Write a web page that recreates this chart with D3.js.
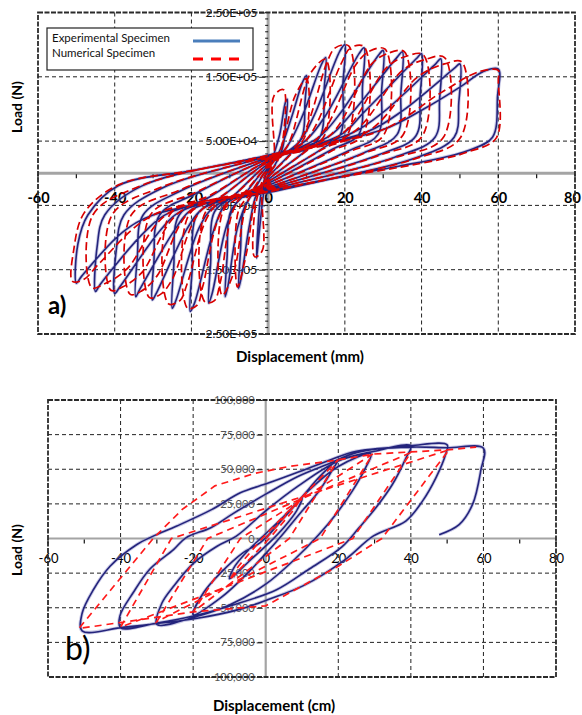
<!DOCTYPE html>
<html>
<head>
<meta charset="utf-8">
<script src="https://d3js.org/d3.v7.min.js"></script>
<style>
  body { margin: 0; background: #fff; }
  svg { display: block; }
  text { font-family: Lato, "Open Sans", sans-serif; }
</style>
</head>
<body>
<svg id="chart" width="582" height="715"></svg>
<script>
// ---------- data ----------
// panel a: displacement (mm) vs load (N), one continuous path per specimen
const expA = [
  [0,0],[1,2e4],[3,6e4],[4.5,1.1e5],[5,1.15e5],[4.6,8e4],[3.8,4e4],[1.5,1e4],[0,-3e3],
  [-1,-2.5e4],[-2.3,-9e4],[-3,-1.32e5],[-2.6,-8e4],[-1.8,-3e4],[0,6e3],
  [3,3.5e4],[6,8.5e4],[9,1.42e5],[10,1.52e5],[9.6,1.1e5],[9,6e4],[6,3.2e4],[0,-6e3],
  [-3,-3.2e4],[-5,-8.5e4],[-7,-1.62e5],[-7.7,-1.79e5],[-7.2,-1.2e5],[-6.5,-6e4],[-4,-3e4],[0,9e3],
  [5,4.2e4],[9,9e4],[13.8,1.68e5],[15,1.8e5],[14.6,1.3e5],[13.8,6e4],[10,3.6e4],[0,-1e4],
  [-5,-4e4],[-8,-8.5e4],[-10.5,-1.76e5],[-11.2,-1.92e5],[-10.7,-1.3e5],[-9.8,-6e4],[-6,-3.2e4],[0,1.2e4],
  [8,4.8e4],[12,9e4],[18.7,1.9e5],[20,2.0e5],[19.5,1.4e5],[18.8,6e4],[14,3.8e4],[0,-1.3e4],
  [-8,-4.4e4],[-11,-8.5e4],[-14.6,-1.87e5],[-15.5,-2.02e5],[-15,-1.4e5],[-14,-6e4],[-9,-3.5e4],[0,1.5e4],
  [10,5.2e4],[15,9e4],[23.7,1.86e5],[25,1.95e5],[24.6,1.35e5],[23.6,6e4],[17,3.8e4],[0,-1.6e4],
  [-11,-4.8e4],[-14,-8.5e4],[-19.2,-2.02e5],[-20.3,-2.15e5],[-19.8,-1.5e5],[-18.6,-6.5e4],[-12,-3.6e4],[0,1.8e4],
  [13,5.5e4],[19,9.5e4],[28.7,1.83e5],[30,1.91e5],[29.6,1.3e5],[28.6,6e4],[21,3.5e4],[0,-1.9e4],
  [-14,-5.2e4],[-18,-8.5e4],[-24,-1.97e5],[-25,-2.1e5],[-24.6,-1.45e5],[-23.2,-6.5e4],[-15,-3.6e4],[0,2e4],
  [16,5.8e4],[22,9.5e4],[33.7,1.81e5],[35,1.89e5],[34.6,1.25e5],[33.6,6e4],[25,3.2e4],[0,-2.2e4],
  [-17,-5.5e4],[-21,-8.5e4],[-29.1,-1.86e5],[-30.2,-1.97e5],[-29.8,-1.4e5],[-28.3,-6.5e4],[-19,-3.2e4],[0,2.2e4],
  [19,6e4],[25,9.5e4],[38.6,1.78e5],[40,1.86e5],[39.6,1.2e5],[38.5,5.8e4],[29,2.9e4],[0,-2.4e4],
  [-20,-5.7e4],[-24,-8.5e4],[-33.5,-1.81e5],[-34.5,-1.92e5],[-34.1,-1.3e5],[-32.6,-6.5e4],[-23,-2.8e4],[0,2.4e4],
  [22,6.3e4],[30,9.5e4],[43.8,1.71e5],[45,1.78e5],[44.7,1.15e5],[43.5,5.6e4],[33,2.5e4],[0,-2.6e4],
  [-23,-6e4],[-28,-8.8e4],[-38.7,-1.77e5],[-40,-1.87e5],[-39.6,-1.2e5],[-37.6,-6.5e4],[-28,-2.4e4],[0,2.6e4],
  [26,6.5e4],[35,9.7e4],[48.5,1.63e5],[50,1.70e5],[49.7,1.1e5],[48.5,5.6e4],[38,2.3e4],[0,-2.8e4],
  [-26,-6.2e4],[-32,-9e4],[-43.8,-1.73e5],[-45,-1.84e5],[-44.6,-1.15e5],[-42.6,-6.5e4],[-33,-2e4],[0,2.8e4],
  [30,6.8e4],[40,9.8e4],[50,1.34e5],[56,1.58e5],[60,1.62e5],[59.8,1.2e5],[58.5,5.6e4],[52,3.5e4],[46,2.5e4],[34,1.1e4],[18.7,-6e3],[0,-3e4],
  [-30,-6.5e4],[-38,-9.2e4],[-48.6,-1.6e5],[-50,-1.71e5],[-49.6,-1.1e5],[-47,-6.5e4],[-39,-1.9e4],[-20,4e3],[0,2.6e4],[10,3.6e4]
];

const numA = [
  [0,0],[1.5,2e4],[1.5,1.2e5],[4,1.3e5],[4,6e4],[2.5,2e4],[0,-3e3],
  [-1.5,-2e4],[-1.5,-1.2e5],[-3.5,-1.3e5],[-3.5,-6e4],[-2,-2e4],[0,6e3],
  [3,3.3e4],[7,1.2e5],[10,1.47e5],[9.8,6e4],[6,3e4],[0,-6e3],
  [-3,-3.3e4],[-5.5,-1.2e5],[-8,-1.77e5],[-7.8,-6e4],[-4.5,-3e4],[0,9e3],
  [5,4.2e4],[11,1.55e5],[15,1.77e5],[14.8,6e4],[10,3.5e4],[0,-1e4],
  [-5,-4e4],[-9,-1.55e5],[-12,-1.9e5],[-11.8,-6e4],[-6.5,-3.2e4],[0,1.2e4],
  [8,4.8e4],[15.5,1.75e5],[17.5,1.95e5],[21,1.98e5],[20.7,6e4],[14,3.7e4],[0,-1.3e4],
  [-8,-4.4e4],[-12.5,-1.7e5],[-14,-1.98e5],[-16.5,-2.0e5],[-16.3,-6e4],[-9,-3.4e4],[0,1.5e4],
  [10,5.2e4],[19,1.7e5],[21.5,1.95e5],[25,1.97e5],[24.7,6e4],[17,3.6e4],[0,-1.6e4],
  [-11,-4.8e4],[-17,-1.75e5],[-18.5,-2.05e5],[-21,-2.1e5],[-20.7,-6.5e4],[-12,-3.5e4],[0,1.8e4],
  [13,5.5e4],[23,1.7e5],[26.5,1.9e5],[30.5,1.93e5],[30.2,6e4],[21,3.3e4],[0,-1.9e4],
  [-14,-5.2e4],[-21,-1.7e5],[-23,-1.98e5],[-26,-2.03e5],[-25.7,-6.5e4],[-15,-3.4e4],[0,2e4],
  [16,5.8e4],[27,1.7e5],[31,1.86e5],[35.5,1.89e5],[35.2,6e4],[25,3.1e4],[0,-2.2e4],
  [-17,-5.5e4],[-25,-1.65e5],[-28,-1.88e5],[-31,-1.93e5],[-30.7,-6.5e4],[-19,-3e4],[0,2.2e4],
  [19,6e4],[31,1.65e5],[36,1.82e5],[40.5,1.84e5],[40.2,5.8e4],[29,2.8e4],[0,-2.4e4],
  [-20,-5.7e4],[-29,-1.6e5],[-33,-1.83e5],[-36,-1.88e5],[-35.7,-6.5e4],[-23,-2.6e4],[0,2.4e4],
  [22,6.3e4],[35,1.6e5],[41,1.77e5],[46,1.8e5],[45.7,5.6e4],[33,2.4e4],[0,-2.6e4],
  [-23,-6e4],[-33,-1.55e5],[-38,-1.77e5],[-41,-1.82e5],[-40.7,-6.5e4],[-28,-2.2e4],[0,2.6e4],
  [26,6.5e4],[39,1.5e5],[46,1.7e5],[50.5,1.73e5],[50.2,5.6e4],[38,2.2e4],[0,-2.8e4],
  [-26,-6.2e4],[-37,-1.5e5],[-43,-1.73e5],[-46,-1.78e5],[-45.7,-6.5e4],[-33,-1.9e4],[0,2.8e4],
  [30,6.8e4],[45,1.25e5],[55,1.58e5],[60,1.6e5],[60,1.45e5],[59.5,5.5e4],[52,3.3e4],[46,2.3e4],[34,9e3],[18,-7e3],[0,-2.9e4],
  [-30,-6.5e4],[-44,-1.4e5],[-48,-1.65e5],[-51,-1.68e5],[-50.7,-1.2e5],[-48,-6.2e4],[-39,-1.8e4],[-20,4e3],[0,2.5e4],[10,3.5e4]
];

// panel b: displacement (cm) vs load (N)
const expB = [
  [0,0],[4,12e3],[8,24e3],[10,29e3],[8.5,20e3],[5,8e3],[1,-3e3],[-4,-15e3],[-8,-25e3],[-10,-29e3],[-8.5,-20e3],[-5,-9e3],[-1,1e3],
  [5,16e3],[10,30e3],[15,45e3],[20,57e3],
  [18.5,50e3],[14.6,34e3],[10,19.8e3],[5.4,5.3e3],[1,-8e3],[-5,-25e3],[-12,-42e3],[-20,-55e3],
  [-17.1,-39e3],[-12.5,-25e3],[-6.1,-10e3],[-1.5,-3e3],[5,15e3],[12,35e3],[20,52e3],[29,61e3],
  [27.5,51e3],[23.8,34e3],[19.2,17e3],[14.6,2.7e3],[8,-15e3],[0,-33e3],[-10,-48e3],[-20,-57e3],[-30,-62e3],
  [-28.6,-46.6e3],[-25.4,-34.5e3],[-19.8,-17.6e3],[-13.4,-5.6e3],[-8.1,1.7e3],[0,20e3],[9,38e3],[20,56e3],[30,63e3],[40,67e3],
  [38.6,57.9e3],[34.9,39e3],[30.3,22e3],[25.7,7.7e3],[21,-6e3],[12,-22e3],[3,-37e3],[-9,-48e3],[-20,-56e3],[-30,-61e3],[-40,-64.5e3],
  [-40.2,-56e3],[-36.5,-39e3],[-31.9,-22e3],[-25.4,-8e3],[-22,0.5e3],[-15,8e3],[-9,18e3],[0,32e3],[9,45e3],[17.4,54e3],[25,62e3],[40,67e3],[50,67.6e3],
  [49.6,61e3],[46.9,43.8e3],[43.2,27e3],[38.6,12.6e3],[29.7,1.9e3],[22,-15e3],[10.4,-34e3],[0.7,-44e3],[-7,-51e3],[-19.7,-58e3],[-39,-64e3],[-50.6,-66.7e3],
  [-50.6,-54e3],[-47.5,-37e3],[-42.9,-20e3],[-35.5,-4.3e3],[-31,1.7e3],[-24.5,9e3],[-14.8,21e3],[-7,33e3],[0.7,40e3],[9,48e3],[17,56e3],[25,63e3],[40,66e3],[50,65.5e3],[60,65.2e3],
  [59.3,49.5e3],[57,24.6e3],[53.3,10e3],[47.8,2.7e3]
];

const numB = [
  [0,0],[10,30e3],[7.5,20e3],[1,0],[-10,-30e3],[-7.5,-20e3],[-1,0],
  [20,57e3],[6.5,0],[-20,-53e3],[-7,0],[29.5,61e3],[15,0],[-30,-60e3],[-16,0],[40,62e3],[24,0],
  [-40,-64e3],[-26,0],[50.5,64e3],[32,0],[20,-20e3],[0,-48.6e3],[-20,-53e3],[-51.5,-65e3],
  [-31,0],[-23,21e3],[-14,38e3],[-3,47e3],[6.4,52e3],[18,56e3],[30,61e3],[50,64e3],[58,66e3]
];

// tick labels
const xTicks = [-60, -40, -20, 0, 20, 40, 60, 80];
const yTicksA = [-2.5e5, -1.5e5, -5e4, 5e4, 1.5e5, 2.5e5];
const yTicksB = [-1e5, -7.5e4, -5e4, -2.5e4, 0, 2.5e4, 5e4, 7.5e4, 1e5];
const legendLabels = ["Experimental Specimen", "Numerical Specimen"];

// ---------- drawing ----------
const svg = d3.select("#chart");
const BLUE = "#24247c", HALO = "#8a8ac8", RED = "#d90000";

const loc = d3.formatLocale({decimal: ".", thousands: ",", grouping: [3], currency: ["", ""], minus: "-"});
const fmtComma = loc.format(",");
function fmtSci(v) {
  const [m, e] = d3.format(".2e")(Math.abs(v)).split("e");
  const ex = +e;
  return (v < 0 ? "-" : "") + m + "E" + (ex < 0 ? "-" : "+") + String(Math.abs(ex)).padStart(2, "0");
}

function drawPanel(o) {
  const g = svg.append("g");
  const x = o.x, y = o.y;
  const [x0, x1] = x.range(), [y0, y1] = y.range(); // y0 bottom, y1 top
  const clipId = "clip" + o.id;
  svg.append("clipPath").attr("id", clipId).append("rect")
    .attr("x", x0).attr("y", y1).attr("width", x1 - x0).attr("height", y0 - y1);

  // dashed grid
  g.append("g").selectAll("line").data(xTicks.filter(d => d > -60 && d < 80 && d !== 0)).join("line")
    .attr("x1", d => x(d)).attr("x2", d => x(d)).attr("y1", y1).attr("y2", y0)
    .attr("stroke", "#222").attr("stroke-width", 1).attr("stroke-dasharray", "4,3");
  g.append("g").selectAll("line").data(o.yTicks.filter(d => d !== 0 && d > o.y.domain()[0] && d < o.y.domain()[1])).join("line")
    .attr("x1", x0).attr("x2", x1).attr("y1", d => y(d)).attr("y2", d => y(d))
    .attr("stroke", "#222").attr("stroke-width", 1).attr("stroke-dasharray", "4,3");

  // zero axes
  g.append("line").attr("x1", x(0)).attr("x2", x(0)).attr("y1", y1).attr("y2", y0)
    .attr("stroke", "#a4a4a4").attr("stroke-width", o.axisW);
  g.append("line").attr("x1", x0).attr("x2", x1).attr("y1", y(0)).attr("y2", y(0))
    .attr("stroke", "#a4a4a4").attr("stroke-width", o.axisW);

  // minor ticks along the zero axes
  g.append("g").selectAll("line").data(d3.range(-60, 81, 10)).join("line")
    .attr("x1", d => x(d)).attr("x2", d => x(d)).attr("y1", y(0) + 1).attr("y2", y(0) + 5)
    .attr("stroke", "#111").attr("stroke-width", 1.2);
  if (o.yMinor) {
    g.append("g").selectAll("line").data(o.yMinor).join("line")
      .attr("x1", x(0) - 3).attr("x2", x(0)).attr("y1", d => y(d)).attr("y2", d => y(d))
      .attr("stroke", "#111").attr("stroke-width", 1);
  }

  // y tick labels next to the vertical zero axis
  const ya = d3.axisLeft(y).tickValues(o.yTicks).tickFormat(o.yFmt).tickSize(6).tickPadding(2);
  const yg = g.append("g").attr("transform", `translate(${x(0) - 3},0)`).call(ya);
  yg.select(".domain").remove();
  yg.selectAll(".tick line").attr("stroke", "#222");
  yg.selectAll("text").attr("font-size", o.yFont).attr("fill", o.yColor).attr("font-family", "Lato, sans-serif");

  // x tick labels under the horizontal zero axis
  const xa = d3.axisBottom(x).tickValues(xTicks).tickFormat(d => String(d)).tickSize(0).tickPadding(o.xPad);
  const xg = g.append("g").attr("transform", `translate(0,${y(0)})`).call(xa);
  xg.select(".domain").remove();
  xg.selectAll("text").attr("font-size", o.xFont).attr("font-weight", o.xWeight).attr("fill", "#000")
    .attr("font-family", "Lato, sans-serif")
    .attr("dx", d => (d === 80 ? o.lastShift : 0));

  // hysteresis curves
  const line = d3.line().x(d => x(d[0])).y(d => y(d[1])).curve(d3.curveCatmullRom.alpha(0.5));
  const lineR = d3.line().x(d => x(d[0])).y(d => y(d[1])).curve(o.redCurve);
  const cg = g.append("g").attr("clip-path", `url(#${clipId})`);
  cg.append("path").datum(o.exp).attr("d", line).attr("fill", "none")
    .attr("stroke", HALO).attr("stroke-width", 3.4).attr("stroke-opacity", 0.45).attr("stroke-linejoin", "round");
  cg.append("path").datum(o.exp).attr("d", line).attr("fill", "none")
    .attr("stroke", BLUE).attr("stroke-width", 1.6).attr("stroke-linejoin", "round");
  cg.append("path").datum(o.num).attr("d", lineR).attr("fill", "none")
    .attr("stroke", o.redColor).attr("stroke-width", 1.7).attr("stroke-dasharray", o.redDash);

  // frame
  g.append("rect").attr("x", x0).attr("y", y1).attr("width", x1 - x0).attr("height", y0 - y1)
    .attr("fill", "none").attr("stroke", "#2a2a2a").attr("stroke-width", 1.8).attr("stroke-dasharray", "5,1.5");
  return g;
}

// panel a
const xA = d3.scaleLinear().domain([-60, 80]).range([38, 575]);
const yA = d3.scaleLinear().domain([-2.5e5, 2.5e5]).range([334, 12.5]);
drawPanel({
  id: "a", x: xA, y: yA, exp: expA, num: numA, yTicks: yTicksA, yFmt: fmtSci,
  yMinor: d3.range(-2.5e5, 2.5e5 + 1, 1e4), yFont: 12, yColor: "#111",
  xFont: 14.5, xWeight: 700, xPad: 19, axisW: 3, redColor: RED, redDash: "8,4",
  redCurve: d3.curveCatmullRom.alpha(0.5), lastShift: -3
});

// panel b
const xB = d3.scaleLinear().domain([-60, 80]).range([48, 556]);
const yB = d3.scaleLinear().domain([-1e5, 1e5]).range([677, 400]);
drawPanel({
  id: "b", x: xB, y: yB, exp: expB, num: numB, yTicks: yTicksB, yFmt: fmtComma,
  yMinor: null, yFont: 11, yColor: "#555",
  xFont: 13, xWeight: 400, xPad: 15, axisW: 2.2, redColor: "#ff1a1a", redDash: "7,5",
  redCurve: d3.curveLinear, lastShift: 0
});

// legend of panel a
const lg = svg.append("g");
lg.append("rect").attr("x", 47).attr("y", 28).attr("width", 206).attr("height", 42)
  .attr("fill", "#fff").attr("stroke", "#222").attr("stroke-width", 1.2);
lg.selectAll("text").data(legendLabels).join("text")
  .attr("x", 52).attr("y", (d, i) => 42 + i * 15).attr("font-size", 11.5).attr("fill", "#111").text(d => d);
lg.append("line").attr("x1", 193).attr("x2", 240).attr("y1", 41).attr("y2", 41)
  .attr("stroke", "#4a7ebb").attr("stroke-width", 3);
lg.append("line").attr("x1", 193).attr("x2", 243).attr("y1", 59).attr("y2", 59)
  .attr("stroke", "#ff0000").attr("stroke-width", 3).attr("stroke-dasharray", "10,8");

// axis titles and panel tags
svg.append("text").attr("transform", "translate(22,107) rotate(-90)").attr("text-anchor", "middle")
  .attr("font-size", 14).attr("font-weight", 700).text("Load (N)");
svg.append("text").attr("x", 300).attr("y", 362).attr("text-anchor", "middle")
  .attr("font-size", 15).attr("font-weight", 700).text("Displacement (mm)");
svg.append("text").attr("x", 48).attr("y", 314).attr("font-size", 24).attr("font-weight", 700).text("a)");

svg.append("text").attr("transform", "translate(22,550) rotate(-90)").attr("text-anchor", "middle")
  .attr("font-size", 14).attr("font-weight", 700).text("Load (N)");
svg.append("text").attr("x", 274).attr("y", 711).attr("text-anchor", "middle")
  .attr("font-size", 15).attr("font-weight", 700).text("Displacement (cm)");
svg.append("text").attr("x", 65).attr("y", 660).attr("font-size", 32).attr("font-weight", 400).text("b)");
</script>
</body>
</html>
